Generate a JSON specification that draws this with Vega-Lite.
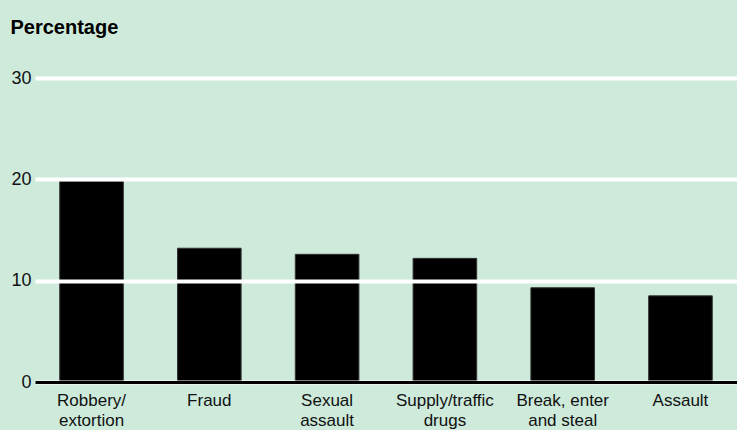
{
  "$schema": "https://vega.github.io/schema/vega-lite/v6.json",
  "autosize": "none",
  "width": 702,
  "height": 304,
  "padding": {"left": 35, "top": 78, "right": 0, "bottom": 48},
  "background": "#cdeadb",
  "config": {
    "view": {"stroke": null},
    "font": "Liberation Sans"
  },
  "data": {
    "values": [
      {"offence": "Robbery/extortion", "pct": 19.8},
      {"offence": "Fraud", "pct": 13.2},
      {"offence": "Sexual assault", "pct": 12.6},
      {"offence": "Supply/traffic drugs", "pct": 12.2},
      {"offence": "Break, enter and steal", "pct": 9.3},
      {"offence": "Assault", "pct": 8.5}
    ]
  },
  "mark": {"type": "bar", "color": "#000000", "stroke": "#333333", "strokeWidth": 1},
  "encoding": {
    "x": {
      "field": "offence",
      "type": "nominal",
      "sort": null,
      "scale": {"paddingInner": 0.46, "paddingOuter": 0.21},
      "axis": {
        "title": null,
        "labelAngle": 0,
        "labelFontSize": 17,
        "labelColor": "#111111",
        "labelPadding": 10,
        "labelLineHeight": 20,
        "labelExpr": "datum.value == 'Robbery/extortion' ? ['Robbery/', 'extortion'] : datum.value == 'Sexual assault' ? ['Sexual', 'assault'] : datum.value == 'Supply/traffic drugs' ? ['Supply/traffic', 'drugs'] : datum.value == 'Break, enter and steal' ? ['Break, enter', 'and steal'] : datum.value",
        "ticks": false,
        "domainColor": "#000000",
        "domainWidth": 3,
        "labelOverlap": false,
        "zindex": 2
      }
    },
    "y": {
      "field": "pct",
      "type": "quantitative",
      "scale": {"domain": [0, 30], "nice": false},
      "axis": {
        "values": [0, 10, 20, 30],
        "title": "Percentage",
        "titleAngle": 0,
        "titleX": -25,
        "titleY": -45,
        "titleAlign": "left",
        "titleBaseline": "alphabetic",
        "titleFontSize": 20,
        "titleFontWeight": "bold",
        "titleColor": "#000000",
        "labelFontSize": 18,
        "labelColor": "#111111",
        "labelPadding": 4,
        "ticks": false,
        "domain": false,
        "grid": true,
        "gridColor": "#ffffff",
        "gridWidth": 4,
        "gridOpacity": 1,
        "zindex": 1
      }
    }
  }
}
